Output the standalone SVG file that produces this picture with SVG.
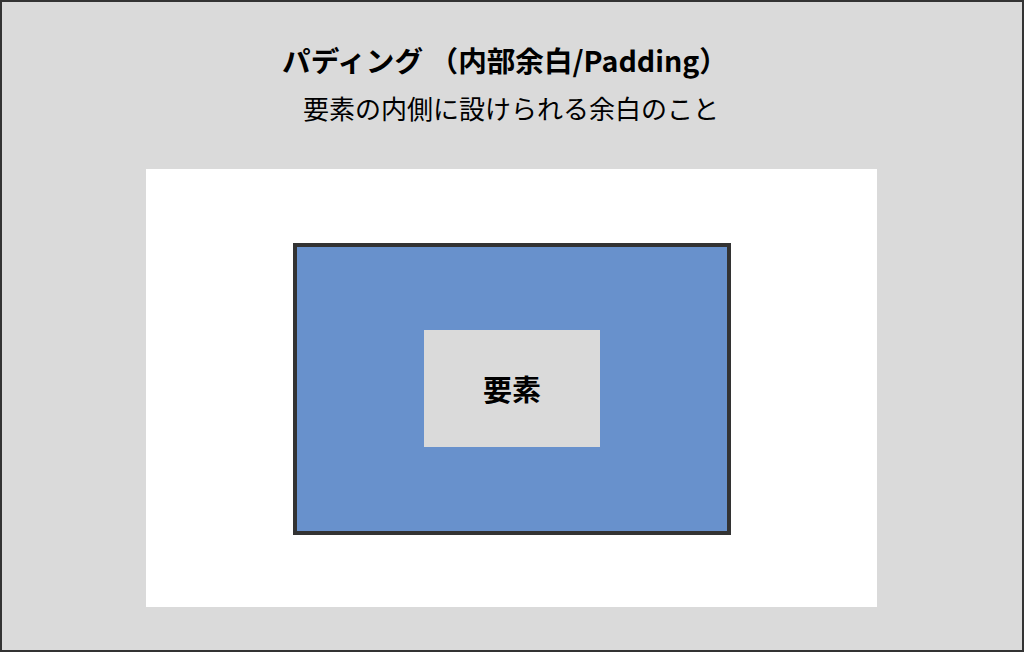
<svg xmlns="http://www.w3.org/2000/svg" width="1024" height="652" viewBox="0 0 1024 652">
<style>
.t{font-family:"Noto Sans CJK JP","Noto Sans",sans-serif;fill:#000;}
.b{font-weight:bold;}
</style>
<rect x="1" y="1" width="1022" height="650" fill="#DADADA" stroke="#333333" stroke-width="2"/>
<g id="title">
<text class="t b" x="505" y="72" font-size="28.6" text-anchor="middle">パディング （内部余白/Padding）</text>
<text class="t" x="511" y="119" font-size="26" text-anchor="middle">要素の内側に設けられる余白のこと</text>
</g>
<g id="container">
<rect x="146" y="169" width="731" height="438" fill="#FFFFFF"/>
</g>
<g id="padding">
<rect x="295" y="245" width="434" height="288" fill="#6891CC" stroke="#333333" stroke-width="4"/>
</g>
<g id="element">
<rect x="424" y="330" width="176" height="117" fill="#DADADA"/>
<text class="t b" x="512" y="401" font-size="29" text-anchor="middle">要素</text>
</g>
<g id="connectors"/>
</svg>
